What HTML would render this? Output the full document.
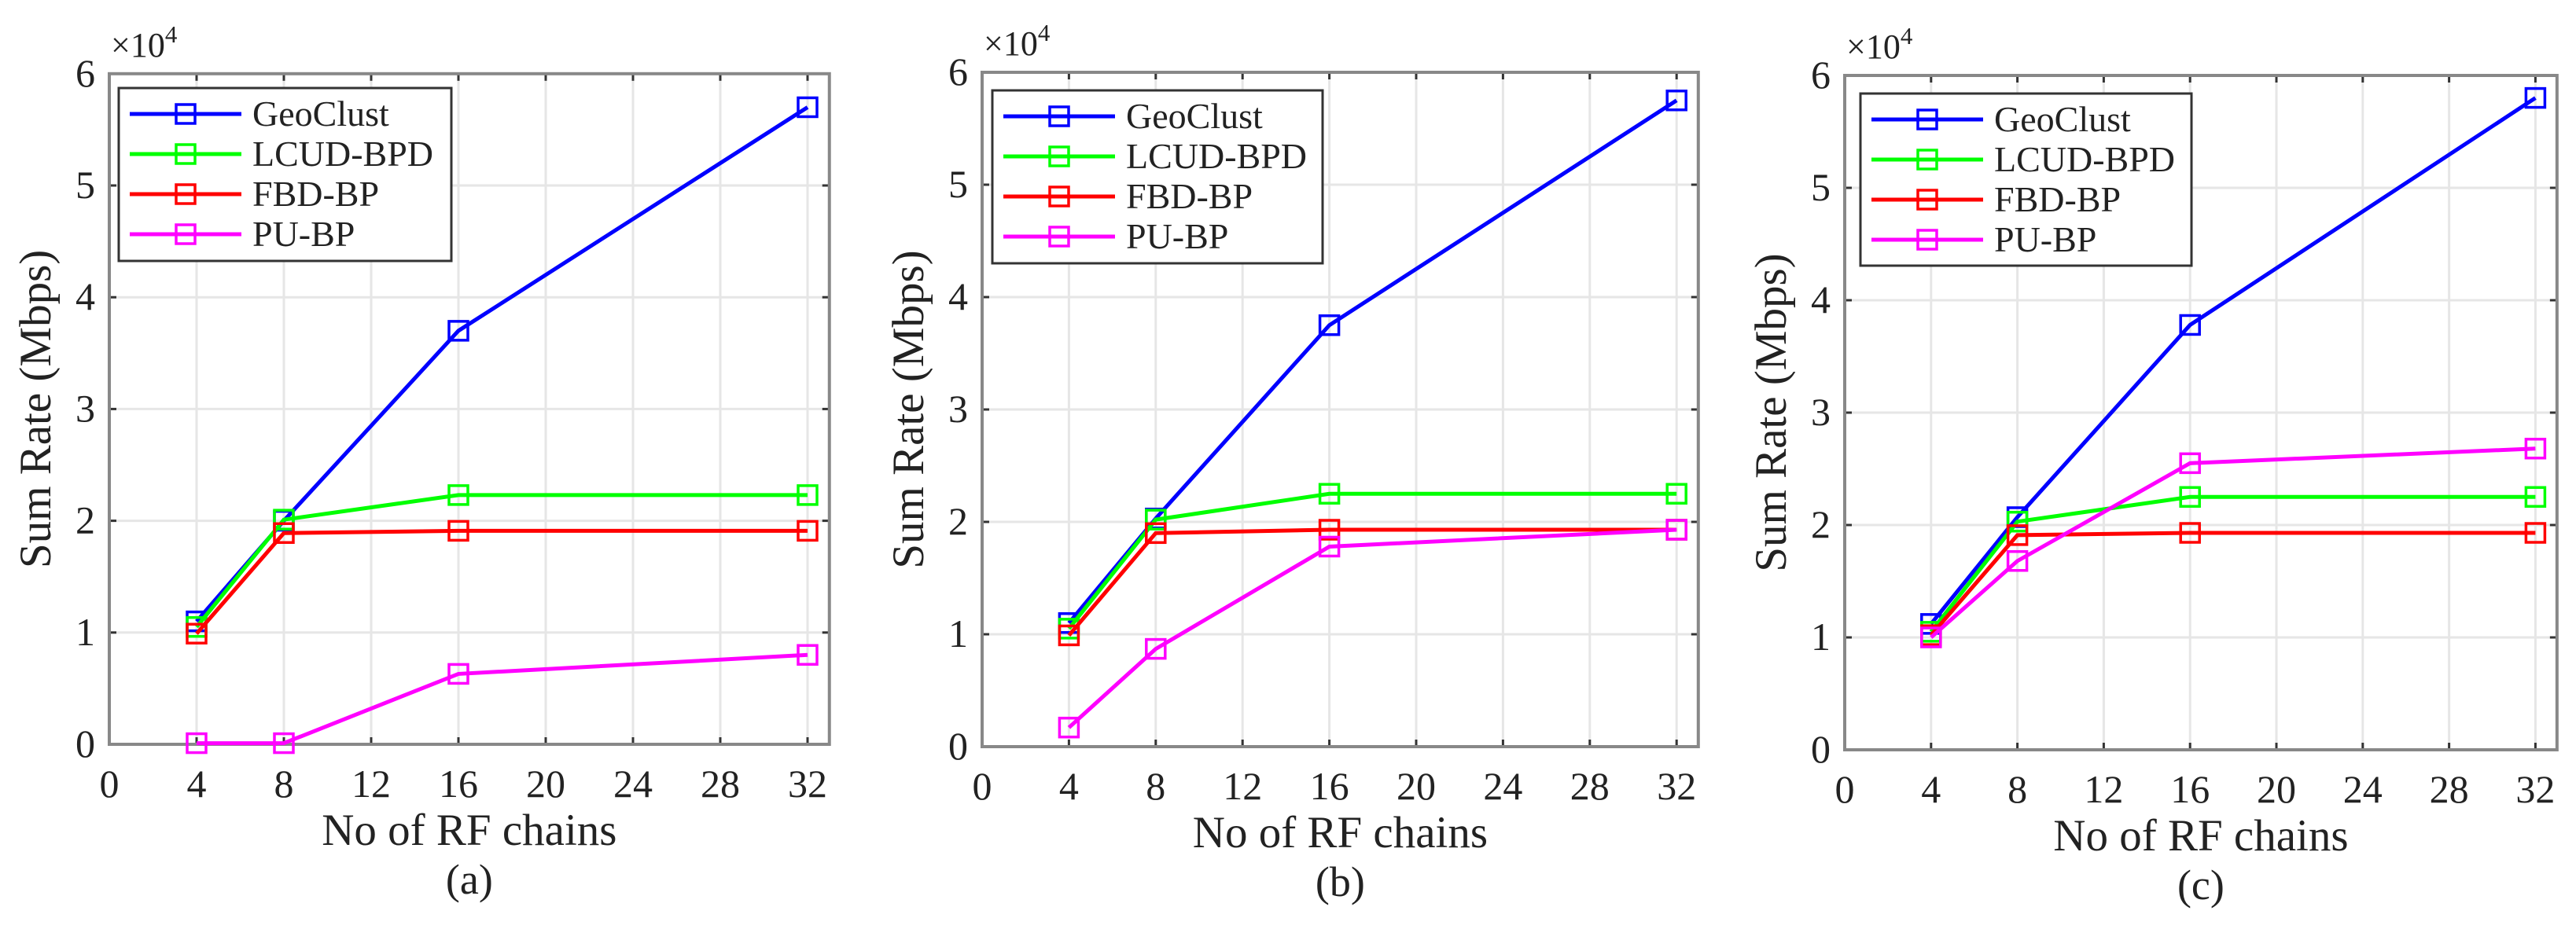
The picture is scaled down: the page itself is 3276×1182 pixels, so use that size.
<!DOCTYPE html>
<html><head><meta charset="utf-8"><style>
html,body{margin:0;padding:0;background:#fff;}
svg text{font-family:"Liberation Serif","Times New Roman","DejaVu Serif",serif;fill:#222;}
</style></head><body>
<svg id="fig" xmlns="http://www.w3.org/2000/svg" width="3276" height="1177" viewBox="0 0 3276 1177" font-family="Liberation Serif, Times New Roman, DejaVu Serif, serif"></svg>
<script>
const xTicks = [0,4,8,12,16,20,24,28,32];
const yTicks = [0,1,2,3,4,5,6];
const xValues = [4,8,16,32];
const seriesNames = ["GeoClust","LCUD-BPD","FBD-BP","PU-BP"];
const seriesColors = ["#0000ff","#00ff00","#ff0000","#ff00ff"];
const panelLabels = ["(a)","(b)","(c)"];
const geoA = [1.10,2.00,3.70,5.70];
const lcudA = [1.05,2.01,2.23,2.23];
const fbdA = [0.99,1.89,1.91,1.91];
const puA = [0.01,0.01,0.63,0.80];
const geoB = [1.10,2.03,3.75,5.75];
const lcudB = [1.05,2.02,2.25,2.25];
const fbdB = [0.99,1.90,1.93,1.93];
const puB = [0.17,0.87,1.78,1.93];
const geoC = [1.12,2.07,3.78,5.80];
const lcudC = [1.05,2.03,2.25,2.25];
const fbdC = [1.02,1.91,1.93,1.93];
const puC = [1.00,1.68,2.55,2.68];
const panelData = [[geoA,lcudA,fbdA,puA],[geoB,lcudB,fbdB,puB],[geoC,lcudC,fbdC,puC]];

const layouts = [
  {l:139,b:947,xu:27.75,yu:142.2,lx:151,ly:112,lw:423,lh:220},
  {l:1249,b:950,xu:27.6,yu:143,lx:1262,ly:115,lw:420,lh:220},
  {l:2346,b:954,xu:27.45,yu:143,lx:2366,ly:119,lw:421,lh:219}
];
const NS="http://www.w3.org/2000/svg";
const svg=document.getElementById('fig');
const FF='"Liberation Serif","Times New Roman","DejaVu Serif",serif';
function mk(tag,attrs,parent,txt){const e=document.createElementNS(NS,tag);for(const k in attrs)e.setAttribute(k,attrs[k]);if(tag==='text')e.style.fontFamily=FF;if(txt!==undefined)e.textContent=txt;parent.appendChild(e);return e;}

layouts.forEach((L,pi)=>{
  const g=mk('g',{},svg);
  
  
  const X=v=>L.l+v*L.xu, Y=v=>L.b-v*L.yu;
  const right=X(33), top=Y(6);
  xTicks.forEach(t=>{const ln=mk('line',{x1:X(t),x2:X(t),y1:top,y2:L.b,stroke:'#e6e6e6','stroke-width':3},g);
    });
  yTicks.forEach(t=>{const ln=mk('line',{x1:L.l,x2:right,y1:Y(t),y2:Y(t),stroke:'#e6e6e6','stroke-width':3},g);
    });
  xTicks.forEach(t=>{mk('line',{x1:X(t),x2:X(t),y1:L.b,y2:L.b-9,stroke:'#333','stroke-width':3},g);mk('line',{x1:X(t),x2:X(t),y1:top,y2:top+9,stroke:'#333','stroke-width':3},g);
    const tx=mk('text',{x:X(t),y:L.b+67,'font-size':50,'text-anchor':'middle'},g,String(t));
    });
  yTicks.forEach(t=>{mk('line',{x1:L.l,x2:L.l+9,y1:Y(t),y2:Y(t),stroke:'#333','stroke-width':3},g);mk('line',{x1:right,x2:right-9,y1:Y(t),y2:Y(t),stroke:'#333','stroke-width':3},g);
    const tx=mk('text',{x:L.l-18,y:Y(t)+16,'font-size':50,'text-anchor':'end'},g,String(t));
    });
  const box=mk('rect',{x:L.l,y:top,width:right-L.l,height:L.b-top,fill:'none',stroke:'#888','stroke-width':4},g);
  
  const ex=mk('text',{x:L.l+2,y:top-22,'font-size':44},g,'×10');
  
  mk('tspan',{dy:-18,'font-size':31},ex,'4');
  panelData[pi].forEach((vals,si)=>{
    const pts=xValues.map((x,i)=>X(x)+','+Y(vals[i])).join(' ');
    const pl=mk('polyline',{points:pts,fill:'none',stroke:seriesColors[si],'stroke-width':5},g);
    
    
    xValues.forEach((x,i)=>{const m=mk('rect',{x:X(x)-12,y:Y(vals[i])-12,width:24,height:24,fill:'none',stroke:seriesColors[si],'stroke-width':3.5},g);
      
      });
  });
  const lg=mk('g',{},g);
  
  mk('rect',{x:L.lx,y:L.ly,width:L.lw,height:L.lh,fill:'#fff',stroke:'#333','stroke-width':3},lg);
  seriesNames.forEach((n,si)=>{const yy=L.ly+33+si*51;
    const e=mk('g',{},lg);
    
    mk('line',{x1:L.lx+14,x2:L.lx+156,y1:yy,y2:yy,stroke:seriesColors[si],'stroke-width':5},e);
    mk('rect',{x:L.lx+73,y:yy-12,width:24,height:24,fill:'none',stroke:seriesColors[si],'stroke-width':3.5},e);
    mk('text',{x:L.lx+170,y:yy+15,'font-size':46},e,n);});
  const cx=(L.l+right)/2;
  const xt=mk('text',{x:cx,y:L.b+128,'font-size':57,'text-anchor':'middle'},g,'No of RF chains');
  
  const pl=mk('text',{x:cx,y:L.b+190,'font-size':54,'text-anchor':'middle'},g,panelLabels[pi]);
  
  const yc=(top+L.b)/2;
  const yt=mk('text',{x:L.l-75,y:yc,'font-size':57,'text-anchor':'middle',transform:`rotate(-90 ${L.l-75} ${yc})`},g,'Sum Rate (Mbps)');
  
});
</script>
</body></html>
